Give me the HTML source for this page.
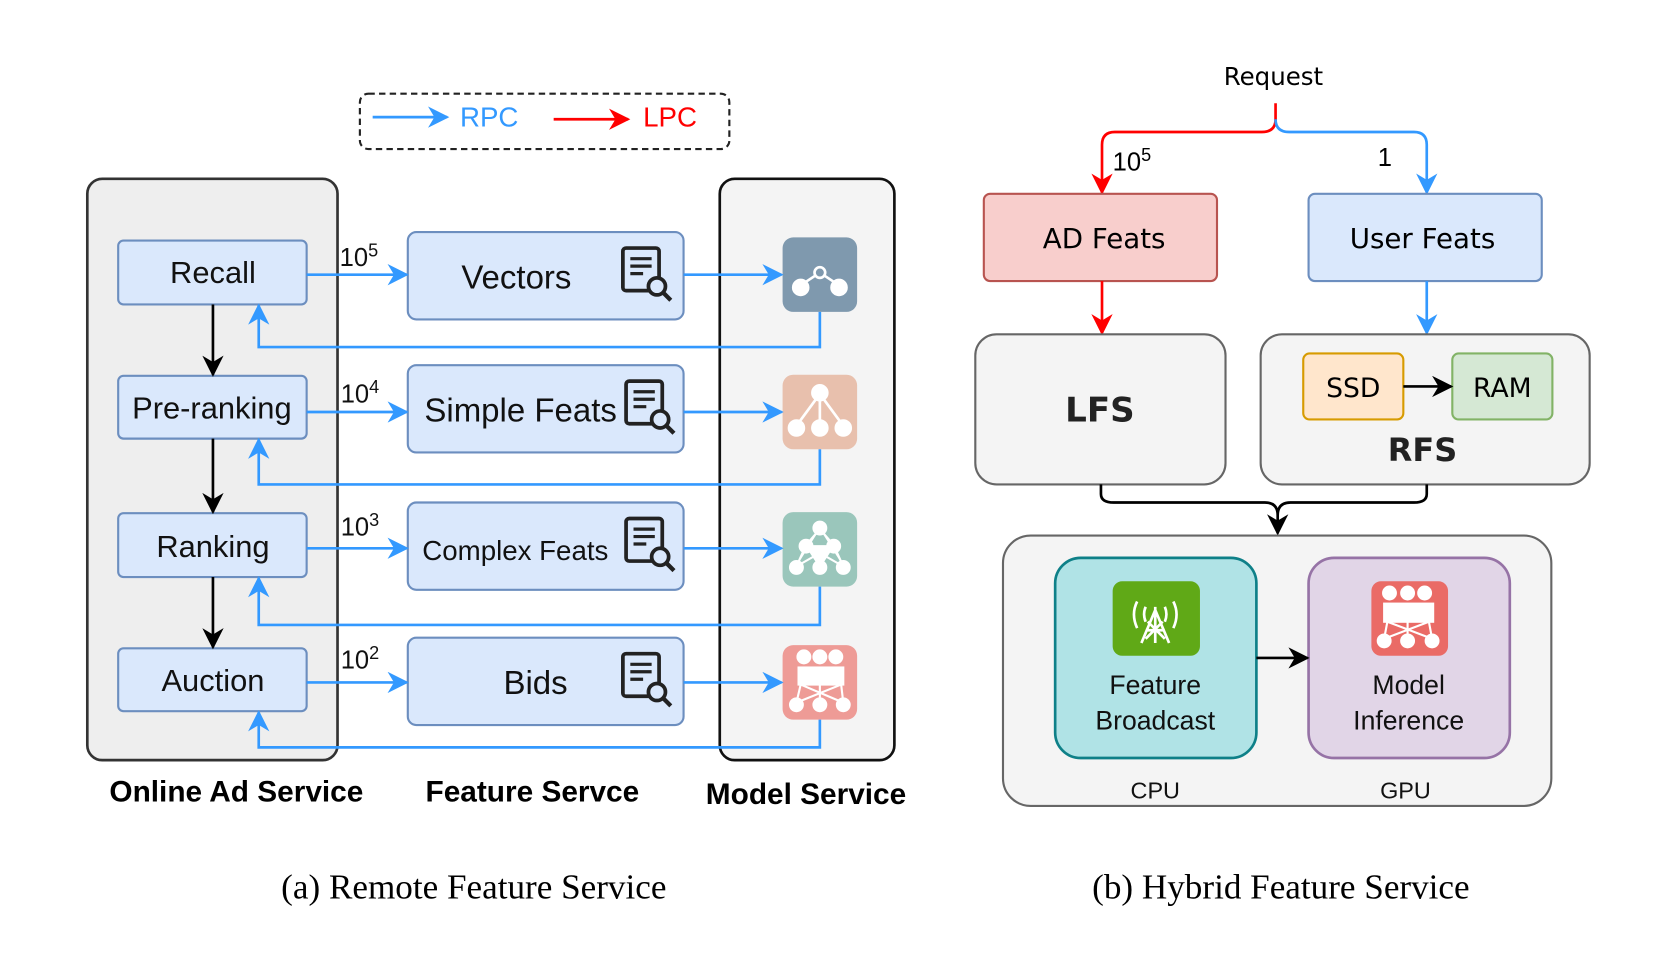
<!DOCTYPE html>
<html><head><meta charset="utf-8"><style>
html,body{margin:0;padding:0;background:#fff;}
svg{display:block;}
text{font-family:"Liberation Sans","DejaVu Sans",sans-serif;}
.c{font-family:"DejaVu Sans","Liberation Sans",sans-serif;}
.s{font-family:"Liberation Serif",serif;}
</style></head><body>
<svg width="1661" height="972" viewBox="0 0 1560 913" preserveAspectRatio="none" xmlns="http://www.w3.org/2000/svg">
<defs>
<marker id="abl" viewBox="0 0 10 10" refX="9" refY="5" markerWidth="20" markerHeight="20" orient="auto" markerUnits="userSpaceOnUse"><path d="M0,0 L10,5 L0,10 L3,5z" fill="#3399ff"/></marker>
<marker id="ar" viewBox="0 0 10 10" refX="9" refY="5" markerWidth="20" markerHeight="20" orient="auto" markerUnits="userSpaceOnUse"><path d="M0,0 L10,5 L0,10 L3,5z" fill="#ff0000"/></marker>
<marker id="ak" viewBox="0 0 10 10" refX="9" refY="5" markerWidth="20" markerHeight="20" orient="auto" markerUnits="userSpaceOnUse"><path d="M0,0 L10,5 L0,10 L3,5z" fill="#000"/></marker>
<g id="doc"><rect x="0" y="0" width="34" height="40" rx="3" fill="none" stroke="#222" stroke-width="3.5"/><path d="M7 10h20M7 17h20M7 24h12" stroke="#222" stroke-width="3"/><circle cx="32" cy="36" r="8" fill="#dae8fc" stroke="#222" stroke-width="3.5"/><path d="M38 42l7 7" stroke="#222" stroke-width="4"/></g>
</defs>

<rect x="338" y="88" width="347" height="52" rx="8" fill="none" stroke="#222" stroke-width="2" stroke-dasharray="6,4"/>
<line x1="350" y1="110" x2="420" y2="110" stroke="#3399ff" stroke-width="2.5" marker-end="url(#abl)"/>
<text x="432" y="119" font-size="26" fill="#3399ff">RPC</text>
<line x1="520" y1="112" x2="590" y2="112" stroke="#ff0000" stroke-width="2.5" marker-end="url(#ar)"/>
<text x="604" y="119" font-size="26" fill="#ff0000">LPC</text>

<rect x="82" y="168" width="235" height="546" rx="14" fill="#eeeeee" stroke="#333" stroke-width="2.5"/>
<rect x="676" y="168" width="164" height="546" rx="14" fill="#f4f4f4" stroke="#111" stroke-width="2.5"/>

<g fill="#dae8fc" stroke="#6c8ebf" stroke-width="2">
<rect x="111" y="226" width="177" height="60" rx="5"/>
<rect x="111" y="353" width="177" height="59" rx="5"/>
<rect x="111" y="482" width="177" height="60" rx="5"/>
<rect x="111" y="609" width="177" height="59" rx="5"/>
<rect x="383" y="218" width="259" height="82" rx="8"/>
<rect x="383" y="343" width="259" height="82" rx="8"/>
<rect x="383" y="472" width="259" height="82" rx="8"/>
<rect x="383" y="599" width="259" height="82" rx="8"/>
</g>
<g class="c" font-size="29" text-anchor="middle" fill="#111">
<text x="200" y="266">Recall</text>
<text x="199" y="393">Pre-ranking</text>
<text x="200" y="523">Ranking</text>
<text x="200" y="649">Auction</text>
<text x="485" y="271" font-size="31">Vectors</text>
<text x="489" y="396" font-size="31">Simple Feats</text>
<text x="484" y="526" font-size="26">Complex Feats</text>
<text x="503" y="652" font-size="31">Bids</text>
</g>
<use href="#doc" x="585" y="233"/>
<use href="#doc" x="588" y="358"/>
<use href="#doc" x="588" y="487"/>
<use href="#doc" x="585" y="614"/>

<rect x="735" y="223" width="70" height="70" rx="10" fill="#7f99ae"/>
<g fill="#fff" stroke="#fff" stroke-width="2.5"><path d="M752 268L770 256L788 268" fill="none"/><circle cx="752" cy="270" r="7"/><circle cx="788" cy="270" r="7"/><circle cx="770" cy="256" r="5" fill="#7f99ae"/></g>
<rect x="735" y="352" width="70" height="70" rx="10" fill="#e8c0ad"/>
<g fill="#fff" stroke="#fff" stroke-width="2.5"><path d="M770 370L748 400M770 370V400M770 370L792 400"/><circle cx="770" cy="369" r="7"/><circle cx="748" cy="402" r="7"/><circle cx="770" cy="402" r="7"/><circle cx="792" cy="402" r="7"/></g>
<rect x="735" y="481" width="70" height="70" rx="10" fill="#9ac6bb"/>
<g fill="#fff" stroke="#fff" stroke-width="2"><path d="M770 497L757 512L748 532M770 497L783 512L792 532M757 512L770 532L783 512M757 512L792 532M783 512L748 532"/><circle cx="770" cy="496" r="6"/><circle cx="757" cy="513" r="6"/><circle cx="783" cy="513" r="6"/><circle cx="748" cy="533" r="6"/><circle cx="770" cy="533" r="6"/><circle cx="792" cy="533" r="6"/></g>
<rect x="735" y="606" width="70" height="70" rx="10" fill="#ee9b96"/>
<g fill="#fff" stroke="#fff" stroke-width="2"><circle cx="755" cy="617" r="6"/><circle cx="770" cy="617" r="6"/><circle cx="785" cy="617" r="6"/><rect x="750" y="627" width="42" height="16"/><path d="M752 643L748 660M770 643V660M790 643L792 660M752 643L792 660M790 643L748 660"/><circle cx="748" cy="662" r="6"/><circle cx="770" cy="662" r="6"/><circle cx="792" cy="662" r="6"/></g>

<g stroke="#3399ff" stroke-width="2.5" fill="none">
<line x1="288" y1="258" x2="382" y2="258" marker-end="url(#abl)"/>
<line x1="288" y1="387" x2="382" y2="387" marker-end="url(#abl)"/>
<line x1="288" y1="515" x2="382" y2="515" marker-end="url(#abl)"/>
<line x1="288" y1="641" x2="382" y2="641" marker-end="url(#abl)"/>
<line x1="642" y1="258" x2="734" y2="258" marker-end="url(#abl)"/>
<line x1="642" y1="387" x2="734" y2="387" marker-end="url(#abl)"/>
<line x1="642" y1="515" x2="734" y2="515" marker-end="url(#abl)"/>
<line x1="642" y1="641" x2="734" y2="641" marker-end="url(#abl)"/>
<polyline points="770,293 770,326 243,326 243,287" marker-end="url(#abl)"/>
<polyline points="770,422 770,455 243,455 243,413" marker-end="url(#abl)"/>
<polyline points="770,551 770,587 243,587 243,543" marker-end="url(#abl)"/>
<polyline points="770,676 770,702 243,702 243,669" marker-end="url(#abl)"/>
</g>
<g stroke="#000" stroke-width="2.5">
<line x1="200" y1="286" x2="200" y2="352" marker-end="url(#ak)"/>
<line x1="200" y1="412" x2="200" y2="481" marker-end="url(#ak)"/>
<line x1="200" y1="542" x2="200" y2="608" marker-end="url(#ak)"/>
</g>
<g font-size="24" fill="#111">
<text x="319" y="250">10<tspan font-size="17" dy="-9">5</tspan></text>
<text x="320" y="378">10<tspan font-size="17" dy="-9">4</tspan></text>
<text x="320" y="503">10<tspan font-size="17" dy="-9">3</tspan></text>
<text x="320" y="628">10<tspan font-size="17" dy="-9">2</tspan></text>
</g>
<g font-size="28" font-weight="bold" text-anchor="middle" fill="#000">
<text x="222" y="753">Online Ad Service</text>
<text x="500" y="753">Feature Servce</text>
<text x="757" y="755">Model Service</text>
</g>
<text class="s" x="445" y="844" font-size="33" text-anchor="middle">(a) Remote Feature Service</text>
<text class="s" x="1203" y="844" font-size="33" text-anchor="middle">(b) Hybrid Feature Service</text>

<text class="c" x="1196" y="80" font-size="23" text-anchor="middle">Request</text>
<path d="M1198 97V112Q1198 124 1185 124H1047Q1035 124 1035 136V181" stroke="#ff0000" stroke-width="2.5" fill="none" marker-end="url(#ar)"/>
<path d="M1198 112Q1198 124 1211 124H1328Q1340 124 1340 136V181" stroke="#3399ff" stroke-width="2.5" fill="none" marker-end="url(#abl)"/>
<text x="1045" y="160" font-size="24">10<tspan font-size="17" dy="-9">5</tspan></text>
<text x="1294" y="156" font-size="24">1</text>
<rect x="924" y="182" width="219" height="82" rx="6" fill="#f8cecc" stroke="#b85450" stroke-width="2"/>
<rect x="1229" y="182" width="219" height="82" rx="6" fill="#dae8fc" stroke="#6c8ebf" stroke-width="2"/>
<text class="c" x="1037" y="233" font-size="26" text-anchor="middle">AD Feats</text>
<text class="c" x="1336" y="233" font-size="26" text-anchor="middle">User Feats</text>
<line x1="1035" y1="264" x2="1035" y2="313" stroke="#ff0000" stroke-width="2.5" marker-end="url(#ar)"/>
<line x1="1340" y1="264" x2="1340" y2="313" stroke="#3399ff" stroke-width="2.5" marker-end="url(#abl)"/>
<rect x="916" y="314" width="235" height="141" rx="20" fill="#f4f4f4" stroke="#666" stroke-width="2"/>
<rect x="1184" y="314" width="309" height="141" rx="20" fill="#f4f4f4" stroke="#666" stroke-width="2"/>
<text class="c" x="1033" y="396" font-size="32" font-weight="bold" text-anchor="middle" fill="#222">LFS</text>
<text class="c" x="1336" y="433" font-size="30" font-weight="bold" text-anchor="middle" fill="#222">RFS</text>
<rect x="1224" y="332" width="94" height="62" rx="6" fill="#ffe6cc" stroke="#d79b00" stroke-width="2"/>
<rect x="1364" y="332" width="94" height="62" rx="6" fill="#d5e8d4" stroke="#82b366" stroke-width="2"/>
<text class="c" x="1271" y="373" font-size="25" text-anchor="middle">SSD</text>
<text class="c" x="1411" y="373" font-size="25" text-anchor="middle">RAM</text>
<line x1="1318" y1="363" x2="1363" y2="363" stroke="#000" stroke-width="2.5" marker-end="url(#ak)"/>
<path d="M1034 455V464Q1034 472 1046 472H1188Q1200 472 1200 484M1340 455V464Q1340 472 1328 472H1212Q1200 472 1200 484V501" stroke="#000" stroke-width="2.5" fill="none" marker-end="url(#ak)"/>
<rect x="942" y="503" width="515" height="254" rx="26" fill="#f4f4f4" stroke="#666" stroke-width="2"/>
<rect x="991" y="524" width="189" height="188" rx="24" fill="#b0e3e6" stroke="#0e8088" stroke-width="2.5"/>
<rect x="1229" y="524" width="189" height="188" rx="24" fill="#e1d5e7" stroke="#9673a6" stroke-width="2.5"/>
<rect x="1045" y="546" width="82" height="70" rx="9" fill="#60a917"/>
<g stroke="#fff" stroke-width="2.5" fill="none"><path d="M1085 570V604M1085 573L1072 604M1085 573L1098 604M1076 592H1094M1078 584L1094 600M1092 584L1076 600"/><path d="M1068 565Q1062 577 1068 590M1102 565Q1108 577 1102 590M1076 570Q1073 577 1076 584M1094 570Q1097 577 1094 584"/></g>
<rect x="1288" y="546" width="72" height="70" rx="9" fill="#ea6b66"/>
<g fill="#fff" stroke="#fff" stroke-width="2"><circle cx="1305" cy="557" r="6"/><circle cx="1322" cy="557" r="6"/><circle cx="1338" cy="557" r="6"/><rect x="1300" y="567" width="46" height="17"/><path d="M1303 584L1300 600M1322 584V600M1342 584L1345 600M1303 584L1345 600M1342 584L1300 600"/><circle cx="1300" cy="602" r="6"/><circle cx="1322" cy="602" r="6"/><circle cx="1345" cy="602" r="6"/></g>
<line x1="1180" y1="618" x2="1228" y2="618" stroke="#000" stroke-width="2.5" marker-end="url(#ak)"/>
<g class="c" font-size="25" text-anchor="middle" fill="#111">
<text x="1085" y="652">Feature</text><text x="1085" y="685">Broadcast</text>
<text x="1323" y="652">Model</text><text x="1323" y="685">Inference</text>
<text x="1085" y="750" font-size="22">CPU</text><text x="1320" y="750" font-size="22">GPU</text>
</g>
</svg>
</body></html>
